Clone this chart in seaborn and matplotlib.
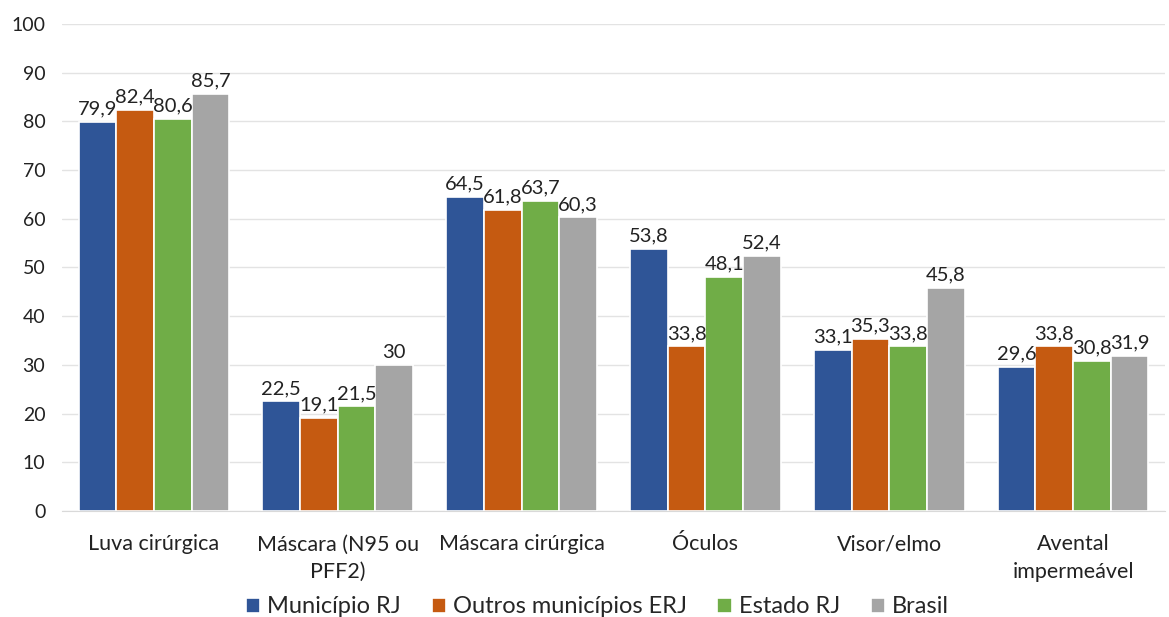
import matplotlib
matplotlib.use("Agg")
import matplotlib.pyplot as plt
import seaborn as sns
import pandas as pd

categories = ["Luva cirúrgica", "Máscara (N95 ou\nPFF2)", "Máscara cirúrgica",
              "Óculos", "Visor/elmo", "Avental\nimpermeável"]
series = ["Município RJ", "Outros municípios ERJ", "Estado RJ", "Brasil"]
municipio_rj = [79.9, 22.5, 64.5, 53.8, 33.1, 29.6]
outros_erj = [82.4, 19.1, 61.8, 33.8, 35.3, 33.8]
estado_rj = [80.6, 21.5, 63.7, 48.1, 33.8, 30.8]
brasil = [85.7, 30.0, 60.3, 52.4, 45.8, 31.9]
yticks = list(range(0, 101, 10))
colors = ["#2F5597", "#C55A11", "#70AD47", "#A5A5A5"]

rows = []
for name, vals in zip(series, [municipio_rj, outros_erj, estado_rj, brasil]):
    for cat, v in zip(categories, vals):
        rows.append({"Categoria": cat, "Série": name, "Valor": v})
df = pd.DataFrame(rows)

sns.set_style("white")
plt.rcParams["font.family"] = ["Lato", "DejaVu Sans"]

fig = plt.figure(figsize=(11.69, 6.17), dpi=100)
ax = fig.add_axes([0.053, 0.172, 0.9436, 0.789])

sns.barplot(data=df, x="Categoria", y="Valor", hue="Série", order=categories,
            hue_order=series, palette=colors, width=0.82, edgecolor="white",
            linewidth=1.2, saturation=1, errorbar=None, ax=ax, legend=True)

def fmt(v):
    return ("%g" % round(v, 1)).replace(".", ",")

for cont in ax.containers:
    ax.bar_label(cont, labels=[fmt(b.get_height()) for b in cont], padding=3,
                 fontsize=14.5, color="#222222")

ax.set_ylim(0, 100)
ax.set_yticks(yticks)
ax.set_yticklabels([str(t) for t in yticks], fontsize=14, color="#222222")
ax.set_xlim(-0.5, len(categories) - 0.5)
ax.tick_params(axis="x", labelsize=15.5, colors="#222222", length=0, pad=17)
ax.tick_params(axis="y", length=0, pad=12)
for lbl in ax.get_xticklabels():
    lbl.set_linespacing(1.45)
ax.yaxis.grid(True, color="#E3E3E3", linewidth=1)
ax.set_axisbelow(True)
for s in ["top", "right", "left"]:
    ax.spines[s].set_visible(False)
ax.spines["bottom"].set_color("#D9D9D9")
ax.set_xlabel("")
ax.set_ylabel("")

handles, labels = ax.get_legend_handles_labels()
ax.get_legend().remove()
fig.legend(handles, labels, loc="lower center", bbox_to_anchor=(0.511, -0.035),
           ncol=4, frameon=False, fontsize=17, handlelength=0.6,
           handleheight=0.6, handletextpad=0.3, columnspacing=1.3)

fig.savefig("out.png", dpi=100)
